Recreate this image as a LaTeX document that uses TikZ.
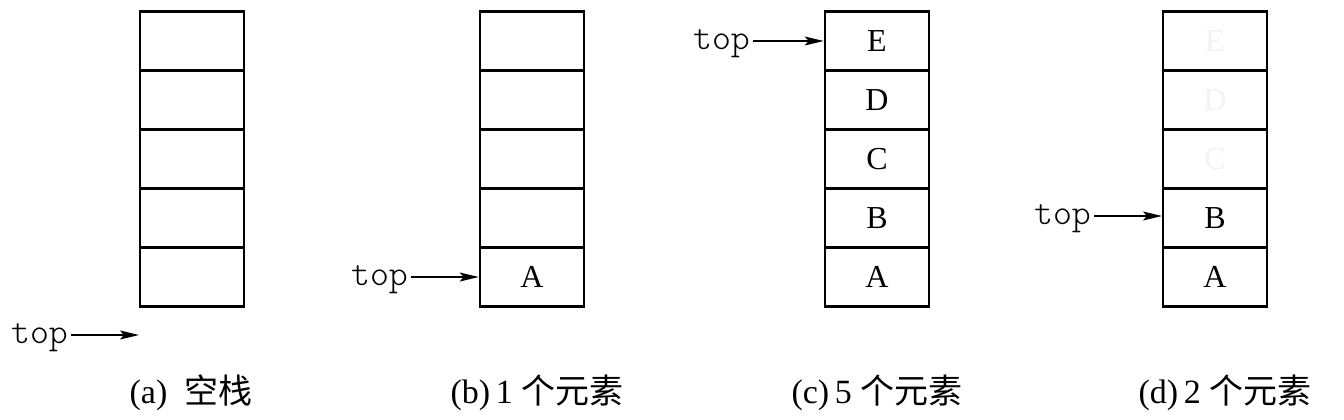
\documentclass[tikz,border=0pt]{standalone}
\usepackage{fontspec}
\setmainfont{Liberation Serif}
\setmonofont{Latin Modern Mono Light}
\newfontfamily\cjk{Noto Sans CJK SC}
\usetikzlibrary{arrows.meta}

\tikzset{
  cell/.style={draw, line width=2.6pt, minimum width=104pt, minimum height=59pt, inner sep=0pt},
  elem/.style={font=\fontsize{32}{36}\selectfont},
  ghost/.style={elem, text=black!5},
  toplabel/.style={font=\ttfamily\fontsize{36}{38}\selectfont, anchor=base east, inner sep=3pt},
  ptr/.style={line width=1.8pt, -{Stealth[length=19pt,width=9pt,inset=4pt]}},
  caption/.style={font=\fontsize{34}{36}\selectfont}
}

\begin{document}
\begin{tikzpicture}[x=1pt,y=-1pt]
\useasboundingbox (0,0) rectangle (1344,420);

% the four stacks
\foreach \s/\x in {a/192,b/532,c/877,d/1215}
  \foreach \i in {1,...,5}
    \node[cell] (\s\i) at (\x,{277-59*(\i-1)}) {};

% elements
\node[elem] (lb1) at (b1) {A};
\node[elem] (lc1) at (c1) {A};
\node[elem] (lc2) at (c2) {B};
\node[elem] (lc3) at (c3) {C};
\node[elem] (lc4) at (c4) {D};
\node[elem] (lc5) at (c5) {E};
\node[elem] (ld1) at (d1) {A};
\node[elem] (ld2) at (d2) {B};
\node[ghost] (ld3) at (d3) {C};
\node[ghost] (ld4) at (d4) {D};
\node[ghost] (ld5) at (d5) {E};

% top pointers
\coordinate (ea) at (139,335);
\node[toplabel] (ta) at (71,343) {top};
\draw[ptr] (ta.east |- ea) -- (ea);

\node[toplabel] (tb) at (411,285) {top};
\draw[ptr] (tb.east |- b1) -- (b1.west);

\node[toplabel] (tc) at (753,50) {top};
\draw[ptr] (tc.east |- c5) -- (c5.west);

\coordinate (pd) at (1162,216);
\node[toplabel] (td) at (1094,224) {top};
\draw[ptr] (td.east |- pd) -- (pd);

% captions
\node[caption] (capa) at (191,393) {(a)\ \ {\cjk 空栈}};
\node[caption] (capb) at (537,393) {(b)\,1 {\cjk 个元素}};
\node[caption] (capc) at (877,393) {(c)\,5 {\cjk 个元素}};
\node[caption] (capd) at (1225,393) {(d)\,2 {\cjk 个元素}};

\end{tikzpicture}
\end{document}
